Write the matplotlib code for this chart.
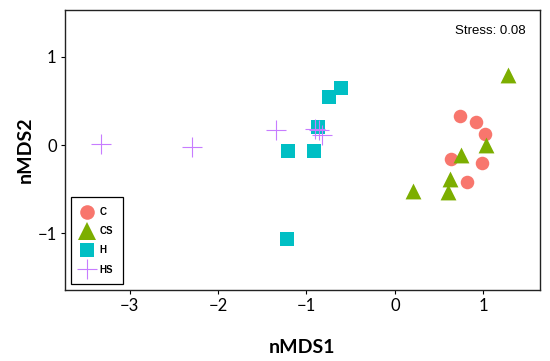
import matplotlib
matplotlib.use("Agg")
import matplotlib.pyplot as plt
from matplotlib.lines import Line2D

groups = ["C", "CS", "H", "HS"]
c_x = [0.74, 0.92, 1.02, 0.63, 0.98, 0.81]
c_y = [0.33, 0.26, 0.13, -0.16, -0.20, -0.42]
cs_x = [1.28, 1.03, 0.75, 0.62, 0.60, 0.20]
cs_y = [0.79, 0.00, -0.11, -0.38, -0.53, -0.52]
h_x = [-0.61, -0.75, -0.87, -1.21, -0.92, -1.22]
h_y = [0.65, 0.55, 0.20, -0.07, -0.07, -1.06]
hs_x = [-3.32, -2.29, -1.35, -0.90, -0.86, -0.83]
hs_y = [0.01, -0.02, 0.17, 0.18, 0.17, 0.12]
x_ticks = [-3, -2, -1, 0, 1]
y_ticks = [-1, 0, 1]
stress_text = "Stress: 0.08"

colors = ["#F8766D", "#7CAE00", "#00BFC4", "#C77CFF"]

fig = plt.figure(figsize=(5.5, 3.61), dpi=100)
ax = fig.add_axes([65/550, 71/361, 475/550, 280/361])

ax.scatter(c_x, c_y, s=95, marker="o", color=colors[0], linewidths=0, zorder=3)
ax.scatter(cs_x, cs_y, s=130, marker="^", color=colors[1], linewidths=0, zorder=3)
ax.scatter(h_x, h_y, s=110, marker="s", color=colors[2], linewidths=0, zorder=3)
ax.scatter(hs_x, hs_y, s=220, marker="+", color=colors[3], linewidths=0.8, zorder=4)

ax.set_xlim(-3.73, 1.64)
ax.set_ylim(-1.64, 1.53)
ax.set_xticks(x_ticks)
ax.set_yticks(y_ticks)
ax.set_xticklabels(["\u2212" + str(abs(t)) if t < 0 else str(t) for t in x_ticks],
                   fontsize=12, family="Lato")
ax.set_yticklabels(["\u2212" + str(abs(t)) if t < 0 else str(t) for t in y_ticks],
                   fontsize=12, family="Lato")
ax.tick_params(direction="out", length=3, width=0.8, pad=3)
for sp in ax.spines.values():
    sp.set_linewidth(1.0)
    sp.set_color("#222222")

ax.set_xlabel("nMDS1", fontsize=14, fontweight="bold", family="Lato", labelpad=18)
ax.set_ylabel("nMDS2", fontsize=14, fontweight="bold", family="Lato", labelpad=3)

ax.text(0.97, 0.925, stress_text, transform=ax.transAxes, ha="right", va="center",
        fontsize=9.5, family="Liberation Sans")

handles = [
    Line2D([], [], marker="o", linestyle="none", color=colors[0], markersize=10.5, markeredgewidth=0),
    Line2D([], [], marker="^", linestyle="none", color=colors[1], markersize=13, markeredgewidth=0),
    Line2D([], [], marker="s", linestyle="none", color=colors[2], markersize=10.5, markeredgewidth=0),
    Line2D([], [], marker="+", linestyle="none", color=colors[3], markersize=15, markeredgewidth=0.8),
]
leg = ax.legend(handles, groups, loc="lower left", bbox_to_anchor=(0.012, 0.02),
                frameon=True, fancybox=False, edgecolor="black", framealpha=1,
                prop={"size": 7, "weight": "bold", "family": "Liberation Sans"},
                handlelength=1.3, handletextpad=0.7, labelspacing=0.95,
                borderpad=1.0, borderaxespad=0)
leg.get_frame().set_linewidth(0.9)

fig.savefig("out.png", dpi=100)
